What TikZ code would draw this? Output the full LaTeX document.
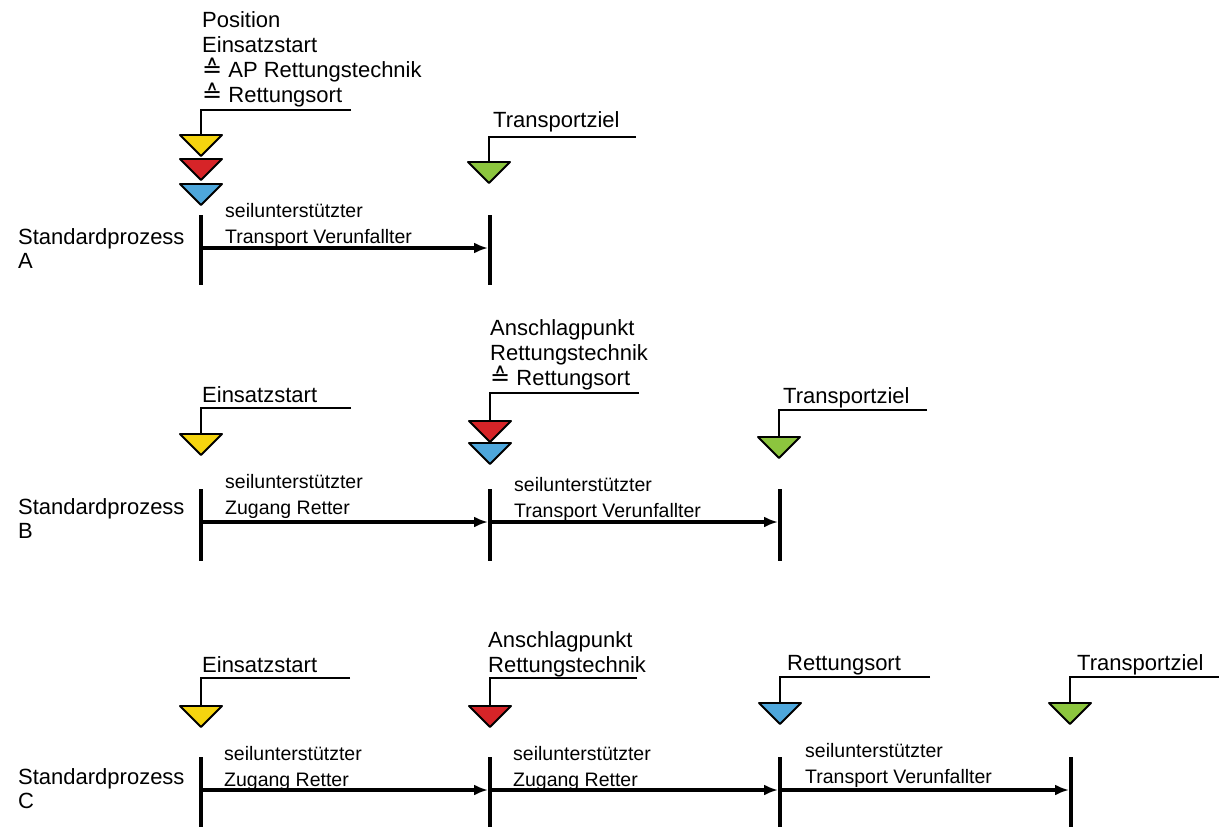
\documentclass[tikz,border=0pt]{standalone}
\usepackage{fontspec}
\setmainfont{Liberation Sans}
\newfontfamily\symfont{DejaVu Sans}
\usetikzlibrary{arrows.meta,positioning}
\definecolor{mkyellow}{RGB}{245,212,15}
\definecolor{mkred}{RGB}{214,36,40}
\definecolor{mkblue}{RGB}{78,167,220}
\definecolor{mkgreen}{RGB}{140,197,62}
\newcommand{\entspr}{{\symfont\fontsize{24}{24}\selectfont\char"2259}}

\begin{document}
\begin{tikzpicture}[x=1pt,y=-1pt,
  lbl/.style={anchor=base west,inner sep=0pt,align=left,font=\fontsize{22}{25}\selectfont},
  proc/.style={anchor=base west,inner sep=0pt,align=left,font=\fontsize{19.5}{26}\selectfont},
  rowlbl/.style={anchor=base west,inner sep=0pt,align=left,font=\fontsize{22}{23.5}\selectfont},
  bar/.style={line width=4pt},
  flow/.style={-{Latex[length=14pt,width=11pt]},line width=3.2pt,shorten >=2pt},
  flag/.style={line width=1.6pt},
  pics/wedge/.style={code={\filldraw[fill=#1,line width=1.9pt,line join=round]
    (-21,0) -- (21,0) -- (0,21) -- cycle;}}]
\useasboundingbox[fill=white] (0,0) rectangle (1219,827);

%% Standardprozess A
\node[rowlbl] (rowA) at (18,268) {Standardprozess\\A};
\node[lbl] (a0l) at (202,102) {Position\\Einsatzstart\\\entspr{} AP Rettungstechnik\\\entspr{} Rettungsort};
\coordinate (a0f) at (201,110); \coordinate (a0e) at (351,110);
\coordinate (a0t) at (201,135);
\draw[flag] (a0e) -- (a0f) -- (a0t);
\pic at (a0t) {wedge=mkyellow};
\pic at (201,159) {wedge=mkred};
\pic at (201,184) {wedge=mkblue};
\node[lbl] (a1l) at (493,127) {Transportziel};
\coordinate (a1f) at (489,137); \coordinate (a1e) at (636,137);
\coordinate (a1t) at (489,162);
\draw[flag] (a1e) -- (a1f) -- (a1t);
\pic at (a1t) {wedge=mkgreen};
\coordinate (a0) at (201,248);
\coordinate (a1) at (490,248);
\draw[bar] (201,215) -- (201,285);
\draw[bar] (490,215) -- (490,285);
\draw[flow] (a0) -- (a1);
\node[proc] (a01) at (225,243) {seilunterstützter\\Transport Verunfallter};

%% Standardprozess B
\node[rowlbl] (rowB) at (18,538) {Standardprozess\\B};
\node[lbl] (b0l) at (202,402) {Einsatzstart};
\coordinate (b0f) at (201,408); \coordinate (b0e) at (351,408);
\coordinate (b0t) at (201,434);
\draw[flag] (b0e) -- (b0f) -- (b0t);
\pic at (b0t) {wedge=mkyellow};
\node[lbl] (b1l) at (490,385) {Anschlagpunkt\\Rettungstechnik\\\entspr{} Rettungsort};
\coordinate (b1f) at (490,393); \coordinate (b1e) at (639,393);
\coordinate (b1t) at (490,421);
\draw[flag] (b1e) -- (b1f) -- (b1t);
\pic at (b1t) {wedge=mkred};
\pic at (490,443) {wedge=mkblue};
\node[lbl] (b2l) at (783,403) {Transportziel};
\coordinate (b2f) at (779,410); \coordinate (b2e) at (927,410);
\coordinate (b2t) at (779,437);
\draw[flag] (b2e) -- (b2f) -- (b2t);
\pic at (b2t) {wedge=mkgreen};
\coordinate (b0) at (201,522);
\coordinate (b1) at (490,522);
\coordinate (b2) at (780,522);
\draw[bar] (201,489) -- (201,561);
\draw[bar] (490,489) -- (490,561);
\draw[bar] (780,489) -- (780,561);
\draw[flow] (b0) -- (b1);
\draw[flow] (b1) -- (b2);
\node[proc] (b01) at (225,514) {seilunterstützter\\Zugang Retter};
\node[proc] (b12) at (514,517) {seilunterstützter\\Transport Verunfallter};

%% Standardprozess C
\node[rowlbl] (rowC) at (18,808) {Standardprozess\\C};
\node[lbl] (c0l) at (202,672) {Einsatzstart};
\coordinate (c0f) at (201,678); \coordinate (c0e) at (350,678);
\coordinate (c0t) at (201,706);
\draw[flag] (c0e) -- (c0f) -- (c0t);
\pic at (c0t) {wedge=mkyellow};
\node[lbl] (c1l) at (488,672) {Anschlagpunkt\\Rettungstechnik};
\coordinate (c1f) at (490,678); \coordinate (c1e) at (637,678);
\coordinate (c1t) at (490,706);
\draw[flag] (c1e) -- (c1f) -- (c1t);
\pic at (c1t) {wedge=mkred};
\node[lbl] (c2l) at (787,670) {Rettungsort};
\coordinate (c2f) at (780,677); \coordinate (c2e) at (930,677);
\coordinate (c2t) at (780,703);
\draw[flag] (c2e) -- (c2f) -- (c2t);
\pic at (c2t) {wedge=mkblue};
\node[lbl] (c3l) at (1077,670) {Transportziel};
\coordinate (c3f) at (1070,677); \coordinate (c3e) at (1219,677);
\coordinate (c3t) at (1070,703);
\draw[flag] (c3e) -- (c3f) -- (c3t);
\pic at (c3t) {wedge=mkgreen};
\coordinate (c0) at (201,790);
\coordinate (c1) at (490,790);
\coordinate (c2) at (780,790);
\coordinate (c3) at (1071,790);
\draw[bar] (201,757) -- (201,835);
\draw[bar] (490,757) -- (490,835);
\draw[bar] (780,757) -- (780,835);
\draw[bar] (1071,757) -- (1071,835);
\draw[flow] (c0) -- (c1);
\draw[flow] (c1) -- (c2);
\draw[flow] (c2) -- (c3);
\node[proc] (c01) at (224,786) {seilunterstützter\\Zugang Retter};
\node[proc] (c12) at (513,786) {seilunterstützter\\Zugang Retter};
\node[proc] (c23) at (805,783) {seilunterstützter\\Transport Verunfallter};
\end{tikzpicture}
\end{document}
